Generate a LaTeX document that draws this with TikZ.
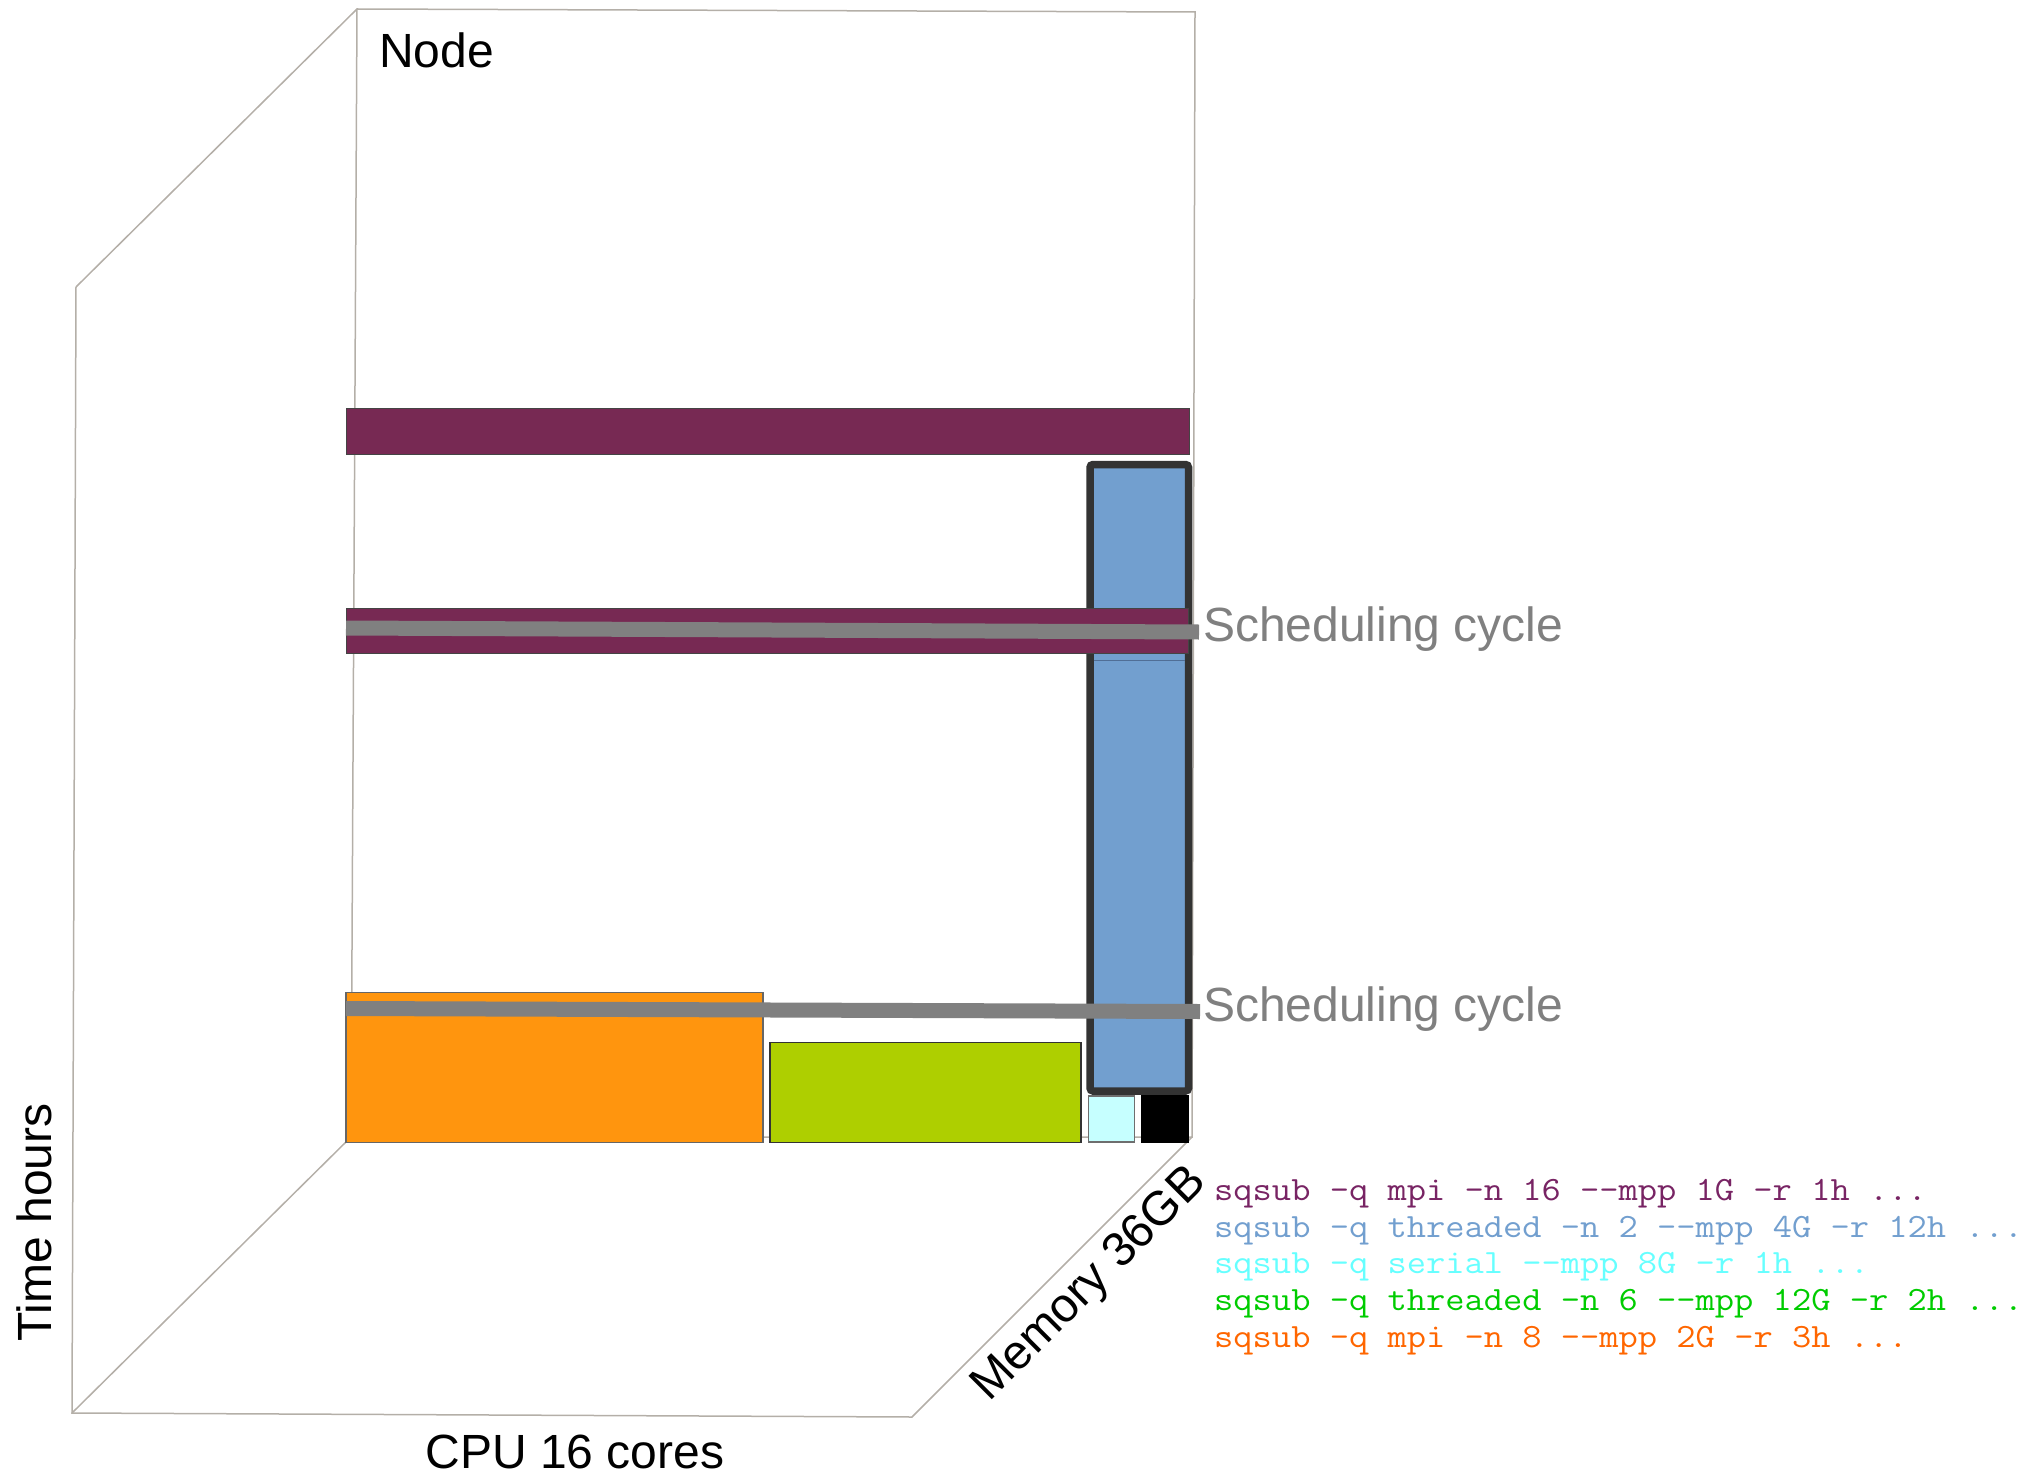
\documentclass[tikz,border=0pt]{standalone}
\usepackage{fontspec}
\usepackage{graphicx}
\setmainfont{Liberation Sans}
\definecolor{framecol}{RGB}{180,175,168}
\definecolor{barpurple}{RGB}{119,41,83}
\definecolor{barborder}{RGB}{68,68,68}
\definecolor{jobblue}{RGB}{114,159,207}
\definecolor{bluerule}{RGB}{80,110,150}
\definecolor{joborange}{RGB}{255,149,14}
\definecolor{orangeborder}{RGB}{102,102,102}
\definecolor{jobgreen}{RGB}{174,207,0}
\definecolor{jobcyan}{RGB}{198,255,255}
\definecolor{cyanborder}{RGB}{110,110,110}
\definecolor{bandgray}{RGB}{128,128,128}
\definecolor{darkborder}{RGB}{51,51,51}
\definecolor{txtpurple}{RGB}{120,36,100}
\definecolor{txtblue}{RGB}{114,159,207}
\definecolor{txtcyan}{RGB}{102,255,255}
\definecolor{txtgreen}{RGB}{0,204,0}
\definecolor{txtorange}{RGB}{255,102,0}
\newcommand{\cmdtext}[1]{\scalebox{1.1}[1]{#1}}
\begin{document}
\begin{tikzpicture}[x=1pt,y=-1pt,
  frameline/.style={draw=framecol,line width=1.5},
  jobbox/.style={line width=1.2},
  band/.style={draw=bandgray,line width=15,line cap=butt},
  biglabel/.style={inner sep=0,font=\fontsize{48}{58}\selectfont},
  cmdline/.style={inner sep=0,anchor=base west,font=\ttfamily\fontsize{34}{38}\selectfont}]
\useasboundingbox (0,0) rectangle (2026,1479);
% frame corners
\coordinate (btl) at (357,9);
\coordinate (btr) at (1195,12);
\coordinate (bbr) at (1192,1137);
\coordinate (bbl) at (351,1137);
\coordinate (ftl) at (76,287);
\coordinate (fbl) at (72,1413);
\coordinate (fbr) at (912,1417);
\draw[frameline] (ftl) -- (btl) -- (btr) -- (bbr) -- (bbl) -- (btl);
\draw[frameline] (ftl) -- (fbl) -- (fbr) -- (bbr);
\draw[frameline] (fbl) -- (bbl);
% jobs at the bottom
\filldraw[jobbox,fill=joborange,draw=orangeborder] (346,992.7) rectangle (763,1142.3);
\filldraw[jobbox,fill=jobgreen,draw=darkborder] (770,1042.7) rectangle (1081,1142.3);
\filldraw[jobbox,fill=jobcyan,draw=cyanborder] (1088.5,1096) rectangle (1134.4,1142);
\filldraw[jobbox,fill=black,draw=black] (1142,1096) rectangle (1188.4,1142);
% mpi bar (top)
\filldraw[fill=barpurple,draw=barborder,line width=1] (346,408) rectangle (1189,454);
% threaded job (tall blue)
\filldraw[fill=jobblue,draw=darkborder,line width=7.5,rounded corners=3] (1090,464.5) rectangle (1188.5,1091);
\draw[draw=bluerule,line width=1] (1093.5,660) -- (1185,660);
% mpi bar (second)
\filldraw[fill=barpurple,draw=barborder,line width=1] (346,608) rectangle (1188,653);
% scheduling cycle bands
\coordinate (s1a) at (346,628);
\coordinate (s1b) at (1199,632);
\coordinate (s2a) at (346,1008.5);
\coordinate (s2b) at (1200,1011.5);
\draw[band] (s1a) -- (s1b);
\draw[band] (s2a) -- (s2b);
% labels
\node[biglabel,anchor=base west] (nodelbl) at (379,68) {Node};
\node[biglabel,anchor=base west,rotate=90] (timelbl) at (51,1342) {Time hours};
\node[biglabel,anchor=base] (cpulbl) at (575,1468) {CPU 16 cores};
\node[biglabel,anchor=base west,rotate=45] (memlbl) at (989,1403) {Memory 36GB};
\node[biglabel,anchor=base west,text=bandgray] (sched1) at (1203,641) {Scheduling cycle};
\node[biglabel,anchor=base west,text=bandgray] (sched2) at (1203,1021) {Scheduling cycle};
% commands
\node[cmdline,text=txtpurple] (cmd1) at (1214,1200) {\cmdtext{sqsub -q mpi -n 16 --mpp 1G -r 1h ...}};
\node[cmdline,text=txtblue] (cmd2) at (1214,1237) {\cmdtext{sqsub -q threaded -n 2 --mpp 4G -r 12h ...}};
\node[cmdline,text=txtcyan] (cmd3) at (1214,1273.5) {\cmdtext{sqsub -q serial --mpp 8G -r 1h ...}};
\node[cmdline,text=txtgreen] (cmd4) at (1214,1310) {\cmdtext{sqsub -q threaded -n 6 --mpp 12G -r 2h ...}};
\node[cmdline,text=txtorange] (cmd5) at (1214,1347) {\cmdtext{sqsub -q mpi -n 8 --mpp 2G -r 3h ...}};
\end{tikzpicture}
\end{document}
